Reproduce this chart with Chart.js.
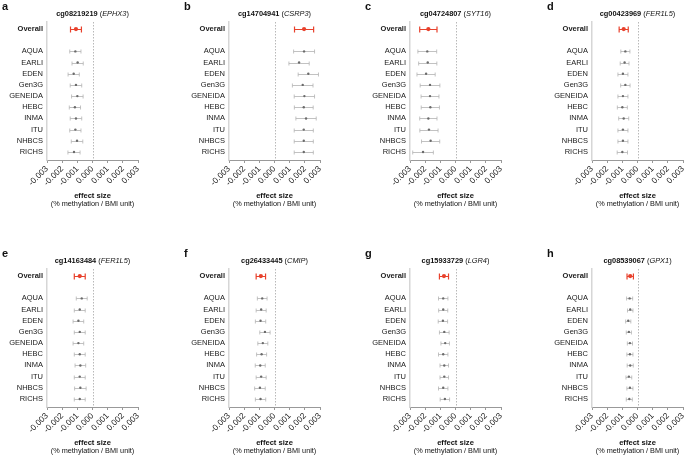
<!DOCTYPE html>
<html>
<head>
<meta charset="UTF-8">
<title>Forest plots</title>
<script src="https://cdn.jsdelivr.net/npm/chart.js@4/dist/chart.umd.min.js"></script>
<style>
  body { margin: 0; background: #fff; overflow: hidden; }
  #wrap { position: relative; width: 685px; height: 456px; overflow: hidden; }
  .panel { position: absolute; width: 182px; height: 212px; }
</style>
</head>
<body>
<div id="wrap"></div>
<script>
    // rows: Overall, then the cohorts (one empty slot between them)
    const rowLabels = ['Overall', 'AQUA', 'EARLI', 'EDEN', 'Gen3G', 'GENEIDA', 'HEBC', 'INMA', 'ITU', 'NHBCS', 'RICHS'];
    const rowPos = [0, 2, 3, 4, 5, 6, 7, 8, 9, 10, 11];
    const xTicks = [-0.003, -0.002, -0.001, 0, 0.001, 0.002, 0.003];

    const letters = ['a', 'b', 'c', 'd', 'e', 'f', 'g', 'h'];
    const probes = ['cg08219219', 'cg14704941', 'cg04724807', 'cg00423969', 'cg14163484', 'cg26433445', 'cg15933729', 'cg08539067'];
    const genes = ['EPHX3', 'CSRP3', 'SYT16', 'FER1L5', 'FER1L5', 'CMIP', 'LGR4', 'GPX1'];

    // effect sizes and 95% CI half widths, same order as rowLabels
    const estA = [-0.00109, -0.00113, -0.00098, -0.00124, -0.00109, -0.00100, -0.00116, -0.00109, -0.00113, -0.00102, -0.00122];
    const ciA  = [0.00036, 0.00037, 0.00037, 0.00037, 0.00038, 0.00038, 0.00037, 0.00038, 0.00037, 0.00038, 0.00040];
    const estB = [0.00195, 0.00195, 0.00162, 0.00223, 0.00186, 0.00197, 0.00193, 0.00208, 0.00193, 0.00193, 0.00193];
    const ciB  = [0.00063, 0.00069, 0.00067, 0.00067, 0.00068, 0.00067, 0.00062, 0.00067, 0.00063, 0.00063, 0.00063];
    const estC = [-0.00179, -0.00186, -0.00183, -0.00194, -0.00168, -0.00168, -0.00166, -0.00179, -0.00175, -0.00164, -0.00214];
    const ciC  = [0.00057, 0.00062, 0.00060, 0.00060, 0.00065, 0.00059, 0.00060, 0.00057, 0.00060, 0.00060, 0.00068];
    const estD = [-0.00091, -0.00080, -0.00085, -0.00096, -0.00080, -0.00096, -0.00100, -0.00091, -0.00096, -0.00096, -0.00100];
    const ciD  = [0.00030, 0.00030, 0.00029, 0.00033, 0.00031, 0.00033, 0.00033, 0.00033, 0.00033, 0.00033, 0.00034];
    const estE = [-0.00084, -0.00071, -0.00084, -0.00093, -0.00084, -0.00093, -0.00084, -0.00080, -0.00084, -0.00080, -0.00084];
    const ciE  = [0.00036, 0.00036, 0.00036, 0.00035, 0.00036, 0.00035, 0.00036, 0.00035, 0.00036, 0.00038, 0.00036];
    const estF = [-0.00090, -0.00081, -0.00088, -0.00092, -0.00063, -0.00077, -0.00085, -0.00094, -0.00088, -0.00096, -0.00092];
    const ciF  = [0.00031, 0.00032, 0.00033, 0.00034, 0.00034, 0.00033, 0.00033, 0.00033, 0.00033, 0.00035, 0.00034];
    const estG = [-0.00076, -0.00081, -0.00081, -0.00083, -0.00074, -0.00068, -0.00081, -0.00074, -0.00074, -0.00081, -0.00070];
    const ciG  = [0.00030, 0.00031, 0.00030, 0.00031, 0.00032, 0.00028, 0.00031, 0.00028, 0.00028, 0.00031, 0.00031];
    const estH = [-0.00048, -0.00052, -0.00048, -0.00061, -0.00057, -0.00050, -0.00050, -0.00048, -0.00057, -0.00050, -0.00054];
    const ciH  = [0.00021, 0.00020, 0.00018, 0.00017, 0.00017, 0.00017, 0.00020, 0.00020, 0.00019, 0.00020, 0.00020];

    const allEst = [estA, estB, estC, estD, estE, estF, estG, estH];
    const allCi = [ciA, ciB, ciC, ciD, ciE, ciF, ciG, ciH];

    const FONT = "'Liberation Sans', Arial, sans-serif";
    const TXT = '#1a1a1a';
    const RED = '#e8412c';

    const forestPlugin = {
        id: 'forest',
        beforeDatasetsDraw(chart, args, opts) {
            const { ctx, chartArea, scales: { x, y } } = chart;
            ctx.save();
            // dotted zero line
            const x0 = Math.round(x.getPixelForValue(0)) + 0.5;
            ctx.strokeStyle = '#b8b8b8';
            ctx.lineWidth = 1;
            ctx.setLineDash([1.5, 1.5]);
            ctx.beginPath();
            ctx.moveTo(x0, chartArea.top);
            ctx.lineTo(x0, chartArea.bottom);
            ctx.stroke();
            ctx.setLineDash([]);
            // confidence intervals
            opts.est.forEach((e, i) => {
                const lo = x.getPixelForValue(e - opts.ci[i]);
                const hi = x.getPixelForValue(e + opts.ci[i]);
                const py = Math.round(y.getPixelForValue(rowPos[i])) + 0.5;
                const overall = i === 0;
                const cap = overall ? 3 : 2;
                ctx.strokeStyle = overall ? RED : '#b2b2b2';
                ctx.lineWidth = overall ? 1.2 : 0.8;
                ctx.beginPath();
                ctx.moveTo(lo, py); ctx.lineTo(hi, py);
                ctx.moveTo(lo, py - cap); ctx.lineTo(lo, py + cap);
                ctx.moveTo(hi, py - cap); ctx.lineTo(hi, py + cap);
                ctx.stroke();
            });
            ctx.restore();
        },
        afterDraw(chart, args, opts) {
            const { ctx, chartArea } = chart;
            const cx = (chartArea.left + chartArea.right) / 2;
            ctx.save();
            ctx.fillStyle = '#111';
            ctx.textBaseline = 'alphabetic';
            // panel letter
            ctx.font = 'bold 11px ' + FONT;
            ctx.textAlign = 'left';
            ctx.fillText(opts.letter, 2, 9.5);
            // title: bold probe id + italic gene
            const partA = opts.probe;
            const partB = ' (';
            const partC = opts.gene;
            const partD = ')';
            ctx.font = 'bold 7.4px ' + FONT;
            const wA = ctx.measureText(partA).width;
            ctx.font = '7.4px ' + FONT;
            const wB = ctx.measureText(partB).width;
            const wD = ctx.measureText(partD).width;
            ctx.font = 'italic 7.4px ' + FONT;
            const wC = ctx.measureText(partC).width;
            let tx = cx - (wA + wB + wC + wD) / 2;
            const ty = 16.3;
            ctx.font = 'bold 7.4px ' + FONT;
            ctx.fillText(partA, tx, ty); tx += wA;
            ctx.font = '7.4px ' + FONT;
            ctx.fillText(partB, tx, ty); tx += wB;
            ctx.font = 'italic 7.4px ' + FONT;
            ctx.fillText(partC, tx, ty); tx += wC;
            ctx.font = '7.4px ' + FONT;
            ctx.fillText(partD, tx, ty);
            // axis title
            ctx.textAlign = 'center';
            ctx.font = 'bold 7.6px ' + FONT;
            ctx.fillText('effect size', cx, 198.3);
            ctx.font = '7.3px ' + FONT;
            ctx.fillText('(% methylation / BMI unit)', cx, 206.3);
            ctx.restore();
        }
    };

    const wrap = document.getElementById('wrap');
    const lefts = [0, 182, 363, 545];
    const tops = [0, 247];

    allEst.forEach((est, p) => {
        const div = document.createElement('div');
        div.className = 'panel';
        div.style.left = lefts[p % 4] + 'px';
        div.style.top = tops[Math.floor(p / 4)] + 'px';
        const cv = document.createElement('canvas');
        cv.width = 182;
        cv.height = 212;
        div.appendChild(cv);
        wrap.appendChild(div);

        new Chart(cv, {
            type: 'scatter',
            data: {
                datasets: [{
                    data: est.map((e, i) => ({ x: e, y: rowPos[i] })),
                    pointRadius: est.map((_, i) => i === 0 ? 2.1 : 1.2),
                    pointBackgroundColor: est.map((_, i) => i === 0 ? RED : '#6a6a6a'),
                    pointBorderWidth: 0
                }]
            },
            options: {
                responsive: false,
                animation: false,
                events: [],
                layout: { padding: { top: 22, right: 44, left: 0, bottom: 0 } },
                plugins: {
                    legend: { display: false },
                    tooltip: { enabled: false },
                    forest: { est: est, ci: allCi[p], letter: letters[p], probe: probes[p], gene: genes[p] }
                },
                scales: {
                    x: {
                        type: 'linear',
                        min: -0.003,
                        max: 0.003,
                        afterBuildTicks: s => { s.ticks = xTicks.map(v => ({ value: v })); },
                        afterFit: s => { s.height = 52; },
                        ticks: {
                            callback: v => v.toFixed(3),
                            autoSkip: false,
                            maxRotation: 45,
                            minRotation: 45,
                            padding: 1,
                            color: TXT,
                            font: { family: FONT, size: 8.4 }
                        },
                        grid: { drawOnChartArea: false, color: '#999', tickLength: 3 },
                        border: { color: '#999', width: 1 }
                    },
                    y: {
                        type: 'linear',
                        min: -0.63,
                        max: 11.72,
                        reverse: true,
                        afterBuildTicks: s => { s.ticks = rowPos.map(v => ({ value: v })); },
                        afterFit: s => { s.width = 47; },
                        ticks: {
                            callback: (v, i) => rowLabels[i],
                            autoSkip: false,
                            padding: 4,
                            color: TXT,
                            font: c => ({ family: FONT, size: 7.5, weight: c.index === 0 ? 'bold' : 'normal' })
                        },
                        grid: { display: false, drawTicks: false },
                        border: { color: '#d6d6d6', width: 1.5 }
                    }
                }
            },
            plugins: [forestPlugin]
        });
    });
</script>
</body>
</html>
